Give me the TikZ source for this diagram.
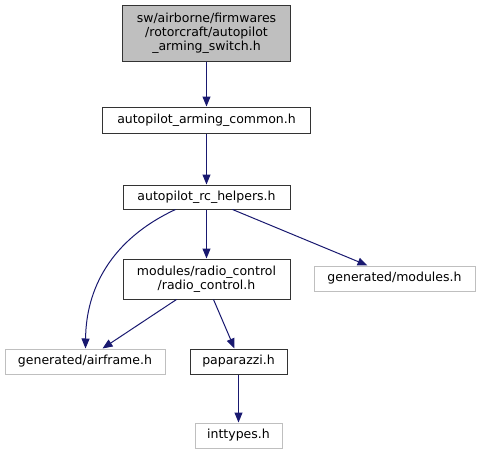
\documentclass[tikz,border=0pt]{standalone}
\usepackage{fontspec}
\setmainfont{DejaVu Sans}
\usetikzlibrary{arrows.meta,calc}
\definecolor{edgecol}{HTML}{191970}
\definecolor{grayline}{HTML}{BFBFBF}
\begin{document}
\begin{tikzpicture}[x=1pt,y=-1pt,
  box/.style={draw=black!80,line width=1pt,inner sep=0pt,align=center,font=\fontsize{12.5}{14}\selectfont},
  ext/.style={draw=grayline,line width=1pt,inner sep=0pt,align=center,font=\fontsize{12.5}{14}\selectfont},
  edge/.style={draw=edgecol,line width=1pt,-{Triangle[length=10pt,width=8pt]}}]
\useasboundingbox (0,0) rectangle (480,455);
\node[box,fill=grayline,minimum width=168pt,minimum height=56pt] (top) at (206.5,33) {sw/airborne/firmwares\\/rotorcraft/autopilot\\\_arming\_switch.h};
\node[box,minimum width=208pt,minimum height=26pt] (common) at (206.5,120) {autopilot\_arming\_common.h};
\node[box,minimum width=167pt,minimum height=24pt] (rch) at (206.5,197) {autopilot\_rc\_helpers.h};
\node[box,minimum width=167pt,minimum height=40pt] (rc) at (206.5,279) {modules/radio\_control\\/radio\_control.h};
\node[ext,minimum width=161pt,minimum height=25pt] (mod) at (394.5,278.5) {generated/modules.h};
\node[ext,minimum width=160pt,minimum height=25pt] (af) at (85,361.5) {generated/airframe.h};
\node[box,minimum width=97pt,minimum height=25pt] (pap) at (238.5,361.5) {paparazzi.h};
\node[ext,minimum width=87pt,minimum height=25pt] (int) at (238.5,435.5) {inttypes.h};
\draw[edge] (top.south) -- (common.north);
\draw[edge] (common.south) -- (rch.north);
\draw[edge] (rch.south) -- (rc.north);
\draw[edge] ($(rch.south west)+(110,0)$) -- ($(mod.north west)+(54,0)$);
\draw[edge] ($(rch.south west)+(53,0)$) .. controls (110,240) and (86,290) .. ($(af.north west)+(81,0)$);
\draw[edge] ($(rc.south west)+(54,0)$) -- ($(af.north west)+(98,0)$);
\draw[edge] ($(rc.south west)+(91,0)$) -- ($(pap.north west)+(45,0)$);
\draw[edge] (pap.south) -- (int.north);
\end{tikzpicture}
\end{document}
